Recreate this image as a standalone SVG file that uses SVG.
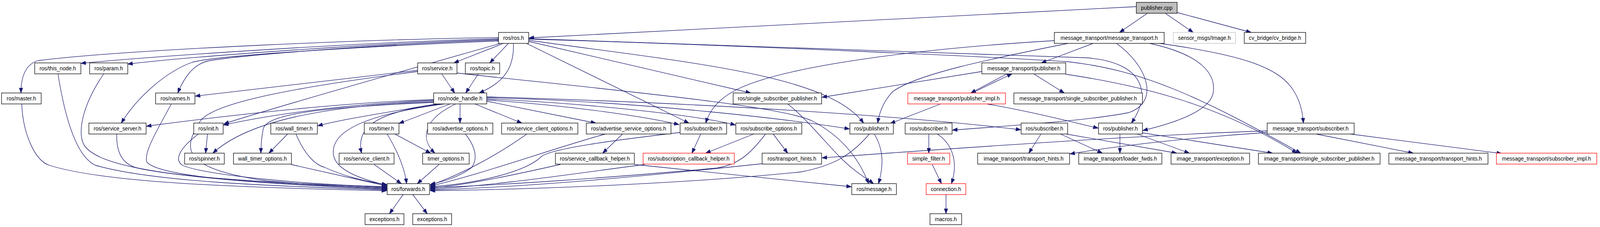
<svg xmlns="http://www.w3.org/2000/svg" width="4191" height="581" viewBox="0 0 4191 581">
<style>
.n rect{fill:#fff;stroke:#000;stroke-width:1.3}
.n.red rect{stroke:#ff0000}
.n.gray rect{stroke:#bfbfbf}
.n.root rect{fill:#bfbfbf}
.n text{font-family:"Liberation Sans",Arial,sans-serif;font-size:14px;text-anchor:middle;fill:#000}
#edges path{fill:none;stroke:#191970;stroke-width:1.3;marker-end:url(#arr)}
</style>
<defs>
<marker id="arr" markerUnits="userSpaceOnUse" markerWidth="14" markerHeight="11" refX="13" refY="5" orient="auto">
<path d="M0,0.3 L13,5 L0,9.7 z" fill="#191970" stroke="#191970" stroke-width="1"/>
</marker>
</defs>
<rect width="4191" height="581" fill="#fff"/>
<g id="diagram" transform="scale(0.9765 1)">
<g id="edges">
<path d="M2979,17 L1387,97"/>
<path d="M3008,34 L2935,83"/>
<path d="M3055,34 L3128,83"/>
<path d="M3086,32 L3280,83"/>
<path d="M1307,96 C1000,100 350,125 100,155 C65,165 55,200 55,238"/>
<path d="M1307,99 C900,110 400,145 212,162"/>
<path d="M1307,101 C950,112 500,145 335,164"/>
<path d="M1307,103 C1000,113 640,140 545,156 C505,166 482,200 466,238"/>
<path d="M1307,105 C1000,117 580,140 505,159 C430,185 355,255 318,315"/>
<path d="M1312,111 C1100,170 700,280 587,317"/>
<path d="M1320,111 L1190,161"/>
<path d="M1333,111 L1284,161"/>
<path d="M1346,111 C1348,170 1325,210 1256,238"/>
<path d="M1386,106 L1968,238"/>
<path d="M1380,111 L1806,315"/>
<path d="M1386,103 C1800,160 2170,190 2264,315"/>
<path d="M1386,99 C2000,115 2600,140 2850,148 C3000,160 3020,240 2966,315"/>
<path d="M1386,100 C2000,118 2650,148 2800,158 C3000,180 3150,250 3410,392"/>
<path d="M2866,111 L2730,161"/>
<path d="M3040,111 C3250,140 3350,170 3390,230 C3410,260 3415,290 3417,315"/>
<path d="M2764,104 C2400,125 2050,170 1930,230 C1880,255 1860,285 1850,315"/>
<path d="M2800,111 C2600,150 2400,190 2340,235 C2315,260 2305,290 2301,315"/>
<path d="M2927,111 C3010,170 3040,260 2960,288 C2850,310 2600,325 2497,333"/>
<path d="M3014,111 C3150,140 3190,190 3180,240 C3170,280 3100,310 2996,334"/>
<path d="M2574,183 L2155,249"/>
<path d="M2640,189 L2545,238"/>
<path d="M2548,238 L2653,189"/>
<path d="M2710,189 L2790,238"/>
<path d="M2794,190 C3000,220 3200,270 3400,392"/>
<path d="M2466,266 L2334,316"/>
<path d="M2587,266 C2700,285 2800,310 2879,328"/>
<path d="M3322,335 C3000,345 2500,380 2155,404"/>
<path d="M3322,339 C3150,350 2950,370 2805,394"/>
<path d="M3450,343 L3705,392"/>
<path d="M3540,343 L3937,393"/>
<path d="M1137,257 C950,265 750,285 586,320"/>
<path d="M1137,255 C900,262 600,295 384,323"/>
<path d="M1137,260 C850,270 650,310 558,392"/>
<path d="M1137,262 C850,275 700,290 690,330 C685,355 684,375 684,392"/>
<path d="M1145,266 C1000,290 900,305 833,322"/>
<path d="M1155,266 C1000,285 930,320 948,392"/>
<path d="M1165,266 C980,290 860,330 875,400 C885,440 960,462 1014,474"/>
<path d="M1180,266 L1046,316"/>
<path d="M1195,266 C1120,300 1095,350 1140,392"/>
<path d="M1206,266 L1206,315"/>
<path d="M1245,266 L1368,315"/>
<path d="M1276,259 L1562,315"/>
<path d="M1276,256 C1500,270 1700,300 1780,319"/>
<path d="M1276,253 C1600,268 1850,300 1928,320"/>
<path d="M1276,250 C1700,260 2100,310 2227,330"/>
<path d="M1276,248 C1900,265 2400,300 2676,332"/>
<path d="M1095,180 L512,246"/>
<path d="M1095,183 C800,220 560,260 525,310 C480,380 470,430 700,463 C850,475 950,480 1014,482"/>
<path d="M1158,189 L1192,238"/>
<path d="M1198,187 C1600,230 2050,270 2130,310 C2200,345 2250,400 2277,470"/>
<path d="M1254,189 L1221,238"/>
<path d="M2065,266 C2110,300 2160,360 2200,400 C2240,440 2270,455 2290,470"/>
<path d="M57,266 C60,340 90,410 129,423 C250,460 500,478 1014,488"/>
<path d="M152,189 C170,300 200,400 250,423 C400,465 700,476 1014,486"/>
<path d="M272,189 C215,270 200,345 223,375 C260,420 400,460 1014,484"/>
<path d="M449,266 C420,320 375,390 385,415 C420,455 700,470 1014,482"/>
<path d="M306,343 C305,390 320,420 360,430 C500,460 800,470 1014,480"/>
<path d="M520,343 C470,380 455,410 480,424 C550,450 800,472 1014,478"/>
<path d="M544,343 L539,392"/>
<path d="M754,343 L705,392"/>
<path d="M776,343 C800,400 830,423 850,428 C900,450 960,466 1014,472"/>
<path d="M763,421 L1014,476"/>
<path d="M981,421 L1052,470"/>
<path d="M1015,343 C1050,400 1062,440 1066,470"/>
<path d="M1035,343 L1129,392"/>
<path d="M1151,421 L1094,470"/>
<path d="M1220,343 C1250,380 1252,410 1235,430 C1200,455 1160,465 1128,472"/>
<path d="M1381,343 C1300,400 1200,450 1128,474"/>
<path d="M1587,343 C1450,380 1250,450 1128,476"/>
<path d="M1632,343 L1580,392"/>
<path d="M1837,343 L1814,392"/>
<path d="M1783,339 C1600,360 1450,380 1420,400 C1380,440 1250,470 1128,478"/>
<path d="M1976,343 L1850,392"/>
<path d="M2027,343 L2065,392"/>
<path d="M2007,343 C1970,390 1940,420 1880,430 C1600,455 1300,475 1128,480"/>
<path d="M1469,421 C1380,440 1250,470 1128,482"/>
<path d="M1663,421 L2232,478"/>
<path d="M1690,421 C1500,445 1300,475 1128,484"/>
<path d="M1998,419 C1700,450 1400,478 1128,486"/>
<path d="M2279,343 C2230,400 2180,425 2100,440 C1800,470 1400,485 1128,488"/>
<path d="M2292,343 C2315,380 2318,420 2303,470"/>
<path d="M2435,343 L2435,392"/>
<path d="M2457,343 C2500,370 2512,420 2494,470"/>
<path d="M2444,421 L2468,470"/>
<path d="M2480,498 L2480,547"/>
<path d="M2729,343 L2697,392"/>
<path d="M2780,343 L2890,392"/>
<path d="M2795,343 L3085,392"/>
<path d="M2936,343 L2936,392"/>
<path d="M2981,343 L3118,392"/>
<path d="M2995,340 L3336,392"/>
<path d="M1057,498 L1021,547"/>
<path d="M1082,498 L1120,547"/>
</g>
<g id="publisher_cpp" class="n root"><rect x="2979" y="6" width="107" height="28"/><text x="3032.5" y="25">publisher.cpp</text></g>
<g id="ros_ros" class="n"><rect x="1307" y="83" width="79" height="28"/><text x="1346.5" y="102">ros/ros.h</text></g>
<g id="mt_message_transport" class="n"><rect x="2764" y="83" width="288" height="28"/><text x="2908" y="102">message_transport/message_transport.h</text></g>
<g id="sensor_msgs_image" class="n gray"><rect x="3076" y="83" width="163" height="28"/><text x="3157.5" y="102">sensor_msgs/Image.h</text></g>
<g id="cv_bridge" class="n"><rect x="3262" y="83" width="161" height="28"/><text x="3342.5" y="102">cv_bridge/cv_bridge.h</text></g>
<g id="ros_this_node" class="n"><rect x="91" y="161" width="121" height="28"/><text x="151.5" y="180">ros/this_node.h</text></g>
<g id="ros_param" class="n"><rect x="235" y="161" width="100" height="28"/><text x="285" y="180">ros/param.h</text></g>
<g id="ros_service" class="n"><rect x="1095" y="161" width="103" height="28"/><text x="1146.5" y="180">ros/service.h</text></g>
<g id="ros_topic" class="n"><rect x="1220" y="161" width="90" height="28"/><text x="1265" y="180">ros/topic.h</text></g>
<g id="mt_publisher" class="n"><rect x="2574" y="161" width="220" height="28"/><text x="2684" y="180">message_transport/publisher.h</text></g>
<g id="ros_master" class="n"><rect x="4" y="238" width="104" height="28"/><text x="56" y="257">ros/master.h</text></g>
<g id="ros_names" class="n"><rect x="408" y="238" width="103" height="28"/><text x="459.5" y="257">ros/names.h</text></g>
<g id="ros_node_handle" class="n"><rect x="1137" y="238" width="139" height="28"/><text x="1206.5" y="257">ros/node_handle.h</text></g>
<g id="ros_single_subscriber_publisher" class="n"><rect x="1922" y="238" width="232" height="28"/><text x="2038" y="257">ros/single_subscriber_publisher.h</text></g>
<g id="mt_publisher_impl" class="n red"><rect x="2380" y="238" width="256" height="28"/><text x="2508" y="257">message_transport/publisher_impl.h</text></g>
<g id="mt_single_subscriber_publisher" class="n"><rect x="2658" y="238" width="337" height="28"/><text x="2826.5" y="257">message_transport/single_subscriber_publisher.h</text></g>
<g id="ros_service_server" class="n"><rect x="233" y="315" width="150" height="28"/><text x="308" y="334">ros/service_server.h</text></g>
<g id="ros_init" class="n"><rect x="508" y="315" width="77" height="28"/><text x="546.5" y="334">ros/init.h</text></g>
<g id="ros_wall_timer" class="n"><rect x="710" y="315" width="122" height="28"/><text x="771" y="334">ros/wall_timer.h</text></g>
<g id="ros_timer" class="n"><rect x="955" y="315" width="91" height="28"/><text x="1000.5" y="334">ros/timer.h</text></g>
<g id="ros_advertise_options" class="n"><rect x="1121" y="315" width="171" height="28"/><text x="1206.5" y="334">ros/advertise_options.h</text></g>
<g id="ros_service_client_options" class="n"><rect x="1315" y="315" width="200" height="28"/><text x="1415" y="334">ros/service_client_options.h</text></g>
<g id="ros_advertise_service_options" class="n"><rect x="1537" y="315" width="222" height="28"/><text x="1648" y="334">ros/advertise_service_options.h</text></g>
<g id="ros_subscriber_a" class="n"><rect x="1783" y="315" width="122" height="28"/><text x="1844" y="334">ros/subscriber.h</text></g>
<g id="ros_subscribe_options" class="n"><rect x="1929" y="315" width="173" height="28"/><text x="2015.5" y="334">ros/subscribe_options.h</text></g>
<g id="ros_publisher_a" class="n"><rect x="2228" y="315" width="114" height="28"/><text x="2285" y="334">ros/publisher.h</text></g>
<g id="ros_subscriber_b" class="n"><rect x="2373" y="315" width="123" height="28"/><text x="2434.5" y="334">ros/subscriber.h</text></g>
<g id="ros_subscriber_c" class="n"><rect x="2677" y="315" width="122" height="28"/><text x="2738" y="334">ros/subscriber.h</text></g>
<g id="ros_publisher_b" class="n"><rect x="2880" y="315" width="115" height="28"/><text x="2937.5" y="334">ros/publisher.h</text></g>
<g id="mt_subscriber" class="n"><rect x="3322" y="315" width="228" height="28"/><text x="3436" y="334">message_transport/subscriber.h</text></g>
<g id="ros_spinner" class="n"><rect x="484" y="392" width="104" height="28"/><text x="536" y="411">ros/spinner.h</text></g>
<g id="wall_timer_options" class="n"><rect x="612" y="392" width="152" height="28"/><text x="688" y="411">wall_timer_options.h</text></g>
<g id="ros_service_client" class="n"><rect x="889" y="392" width="144" height="28"/><text x="961" y="411">ros/service_client.h</text></g>
<g id="timer_options" class="n"><rect x="1108" y="392" width="122" height="28"/><text x="1169" y="411">timer_options.h</text></g>
<g id="ros_service_callback_helper" class="n"><rect x="1456" y="392" width="207" height="28"/><text x="1559.5" y="411">ros/service_callback_helper.h</text></g>
<g id="ros_subscription_callback_helper" class="n red"><rect x="1686" y="392" width="239" height="28"/><text x="1805.5" y="411">ros/subscription_callback_helper.h</text></g>
<g id="ros_transport_hints" class="n"><rect x="1998" y="392" width="156" height="28"/><text x="2076" y="411">ros/transport_hints.h</text></g>
<g id="simple_filter" class="n red"><rect x="2379" y="392" width="111" height="28"/><text x="2434.5" y="411">simple_filter.h</text></g>
<g id="it_transport_hints" class="n"><rect x="2563" y="392" width="241" height="28"/><text x="2683.5" y="411">image_transport/transport_hints.h</text></g>
<g id="it_loader_fwds" class="n"><rect x="2828" y="392" width="218" height="28"/><text x="2937" y="411">image_transport/loader_fwds.h</text></g>
<g id="it_exception" class="n"><rect x="3070" y="392" width="206" height="28"/><text x="3173" y="411">image_transport/exception.h</text></g>
<g id="it_single_subscriber_publisher" class="n"><rect x="3299" y="392" width="319" height="28"/><text x="3458.5" y="411">image_transport/single_subscriber_publisher.h</text></g>
<g id="mt_transport_hints" class="n"><rect x="3641" y="392" width="260" height="28"/><text x="3771" y="411">message_transport/transport_hints.h</text></g>
<g id="mt_subscriber_impl" class="n red"><rect x="3923" y="392" width="263" height="28"/><text x="4054.5" y="411">message_transport/subscriber_impl.h</text></g>
<g id="ros_forwards" class="n"><rect x="1015" y="470" width="111" height="28"/><text x="1070.5" y="489">ros/forwards.h</text></g>
<g id="ros_message" class="n"><rect x="2233" y="470" width="117" height="28"/><text x="2291.5" y="489">ros/message.h</text></g>
<g id="connection" class="n red"><rect x="2428" y="470" width="104" height="28"/><text x="2480" y="489">connection.h</text></g>
<g id="exceptions_1" class="n"><rect x="957" y="547" width="102" height="28"/><text x="1008" y="566">exceptions.h</text></g>
<g id="exceptions_2" class="n"><rect x="1082" y="547" width="102" height="28"/><text x="1133" y="566">exceptions.h</text></g>
<g id="macros" class="n"><rect x="2438" y="547" width="83" height="28"/><text x="2479.5" y="566">macros.h</text></g>
</g>
</svg>
